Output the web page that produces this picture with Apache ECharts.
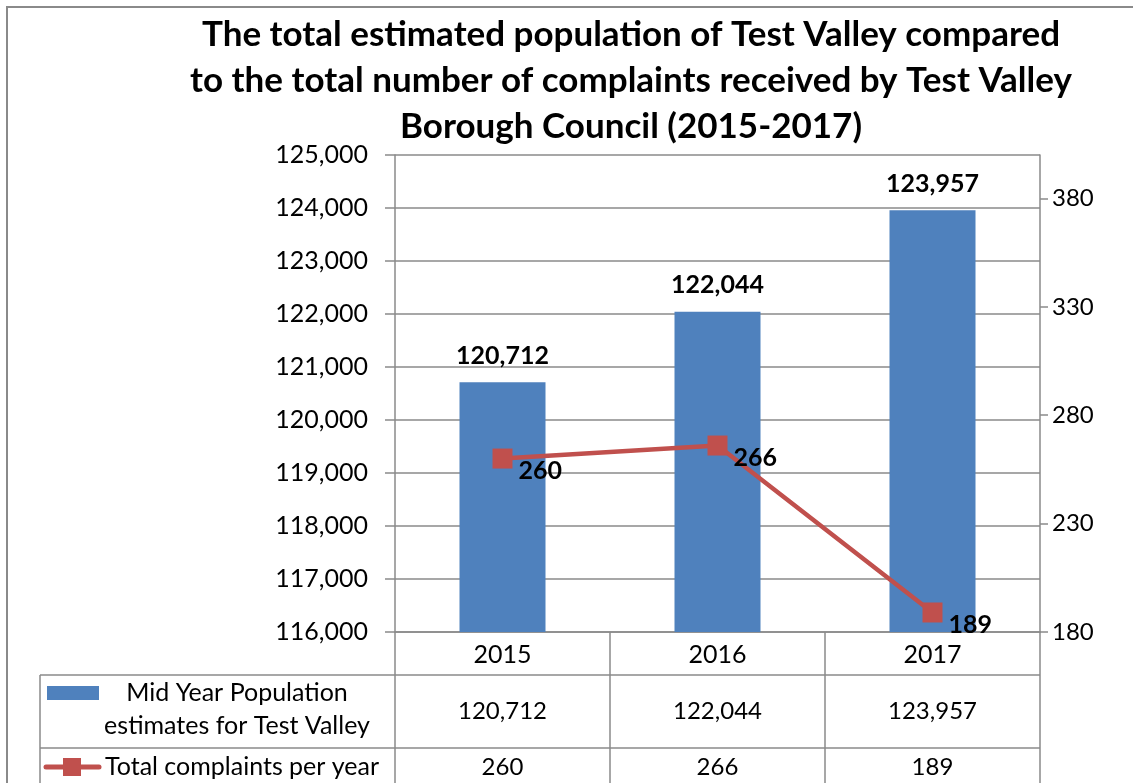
<!DOCTYPE html>
<html>
<head>
<meta charset="utf-8">
<script src="https://cdn.jsdelivr.net/npm/echarts@6/dist/echarts.min.js"></script>
<style>
  html, body { margin: 0; padding: 0; background: #fff; }
  #chart { width: 1133px; height: 783px; }
</style>
</head>
<body>
<div id="chart"></div>
<script>
// data
var years = ['2015', '2016', '2017'];
var population = [120712, 122044, 123957];
var complaints = [260, 266, 189];
var rightTicks = [180, 230, 280, 330, 380];

var titleText = 'The total estimated population of Test Valley compared\n' +
    'to the total number of complaints received by Test Valley\n' +
    'Borough Council (2015-2017)';
var popName = ['Mid Year Population', 'estimates for Test Valley'];
var complaintsName = 'Total complaints per year';

var blue = '#4F81BD';
var red = '#C0504D';
var gridGrey = '#8a8a8a';
var font = 'Lato, "Liberation Sans", sans-serif';

// plot area (px), table hangs under it
var gL = 395, gR = 1040, gT = 155, gB = 632;
var tableLeft = 40, row1 = 675, row2 = 748, tableBottom = 800;

function fmt(v) {
    return v.toLocaleString('en-US');
}

var tableLines = [];
function hline(x1, x2, y) {
    tableLines.push({type: 'line', shape: {x1: x1, y1: y, x2: x2, y2: y},
        style: {stroke: gridGrey, lineWidth: 1.5}, silent: true});
}
function vline(x, y1, y2) {
    tableLines.push({type: 'line', shape: {x1: x, y1: y1, x2: x, y2: y2},
        style: {stroke: gridGrey, lineWidth: 1.5}, silent: true});
}
hline(tableLeft, gR, row1);
hline(tableLeft, gR, row2);
vline(tableLeft, row1, tableBottom);
var cw = (gR - gL) / years.length;
for (var i = 0; i <= years.length; i++) {
    vline(gL + cw * i, gB, tableBottom);
}

var option = {
    animation: false,
    textStyle: {fontFamily: font},
    grid: {left: gL, right: 1133 - gR, top: gT, bottom: 783 - gB},
    xAxis: {
        type: 'category',
        data: years,
        axisLine: {lineStyle: {color: gridGrey, width: 1.5}},
        axisTick: {show: false},
        axisLabel: {
            margin: 0,
            color: '#000',
            fontFamily: font,
            formatter: function (v, idx) {
                return '{a|' + v + '}\n{b|' + fmt(population[idx]) + '}\n{c|' + complaints[idx] + '}';
            },
            rich: {
                a: {fontSize: 25, lineHeight: 46, fontFamily: font, color: '#000'},
                b: {fontSize: 24, lineHeight: 66, fontFamily: font, color: '#000'},
                c: {fontSize: 24, lineHeight: 46, fontFamily: font, color: '#000'}
            }
        }
    },
    yAxis: [
        {
            type: 'value',
            min: 116000,
            max: 125000,
            interval: 1000,
            axisLine: {show: true, lineStyle: {color: gridGrey, width: 1.5}},
            axisTick: {show: true, length: 10, lineStyle: {color: gridGrey, width: 1.5}},
            axisLabel: {
                margin: 27,
                fontSize: 25,
                color: '#000',
                fontFamily: font,
                formatter: function (v) { return fmt(v); }
            },
            splitLine: {lineStyle: {color: gridGrey, width: 1.5}}
        },
        {
            type: 'value',
            min: 180,
            max: 400,
            position: 'right',
            axisLine: {show: true, lineStyle: {color: gridGrey, width: 1.5}},
            axisTick: {show: true, length: 8, customValues: rightTicks,
                lineStyle: {color: gridGrey, width: 1.5}},
            axisLabel: {
                margin: 12,
                fontSize: 24,
                color: '#000',
                fontFamily: font,
                customValues: rightTicks
            },
            splitLine: {show: false}
        }
    ],
    series: [
        {
            name: popName.join(' '),
            type: 'bar',
            barWidth: '40%',
            itemStyle: {color: blue},
            data: population,
            label: {
                show: true,
                position: 'top',
                distance: 14,
                fontSize: 25,
                fontWeight: 'bold',
                color: '#000',
                fontFamily: font,
                formatter: function (p) { return fmt(p.value); }
            }
        },
        {
            name: complaintsName,
            type: 'line',
            yAxisIndex: 1,
            data: complaints,
            symbol: 'rect',
            symbolSize: 20,
            lineStyle: {color: red, width: 4.5},
            itemStyle: {color: red},
            label: {
                show: true,
                position: 'right',
                distance: 6,
                offset: [0, 12],
                fontSize: 25,
                fontWeight: 'bold',
                color: '#000',
                fontFamily: font
            }
        }
    ],
    graphic: [
        {
            type: 'rect',
            shape: {x: 7, y: 7, width: 1200, height: 900},
            style: {fill: 'none', stroke: gridGrey, lineWidth: 2},
            silent: true
        },
        {
            type: 'text',
            x: 631,
            y: 12,
            style: {
                text: titleText,
                align: 'center',
                verticalAlign: 'top',
                font: 'bold 35px ' + font,
                lineHeight: 46,
                fill: '#000'
            }
        },
        // legend keys in the table's first column
        {
            type: 'rect',
            shape: {x: 47, y: 686, width: 52, height: 14},
            style: {fill: blue}
        },
        {
            type: 'text',
            x: 237,
            y: 676,
            style: {
                text: popName.join('\n'),
                align: 'center',
                verticalAlign: 'top',
                font: '25px ' + font,
                lineHeight: 33,
                fill: '#000'
            }
        },
        {
            type: 'line',
            shape: {x1: 46, y1: 767, x2: 99, y2: 767},
            style: {stroke: red, lineWidth: 5, lineCap: 'round'}
        },
        {
            type: 'rect',
            shape: {x: 63, y: 758, width: 18, height: 18},
            style: {fill: red}
        },
        {
            type: 'text',
            x: 105,
            y: 767,
            style: {
                text: complaintsName,
                align: 'left',
                verticalAlign: 'middle',
                font: '25px ' + font,
                fill: '#000'
            }
        }
    ].concat(tableLines)
};

var chart = echarts.init(document.getElementById('chart'));
chart.setOption(option);
</script>
</body>
</html>
